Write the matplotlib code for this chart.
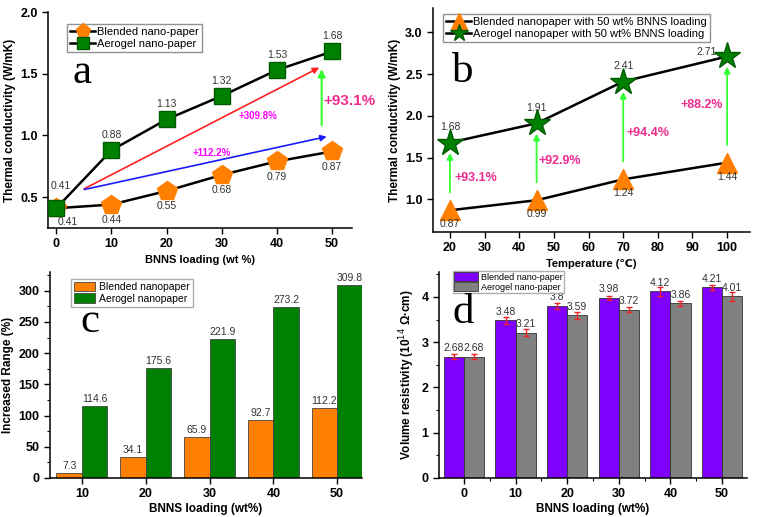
import numpy as np
import matplotlib
matplotlib.use('Agg')
import matplotlib.pyplot as plt
from matplotlib.lines import Line2D
from matplotlib.ticker import MultipleLocator

plt.rcParams['font.family'] = ['Liberation Sans', 'DejaVu Sans']

# Panel a: thermal conductivity vs BNNS loading
loading = [0, 10, 20, 30, 40, 50]
blended_k = [0.41, 0.44, 0.55, 0.68, 0.79, 0.87]
aerogel_k = [0.41, 0.88, 1.13, 1.32, 1.53, 1.68]

# Panel b: thermal conductivity vs temperature (50 wt% BNNS)
temps = [20, 45, 70, 100]
blended_t = [0.87, 0.99, 1.24, 1.44]
aerogel_t = [1.68, 1.91, 2.41, 2.71]
increase_t = ['+93.1%', '+92.9%', '+94.4%', '+88.2%']

# Panel c: increased range
loading_c = [10, 20, 30, 40, 50]
blended_inc = [7.3, 34.1, 65.9, 92.7, 112.2]
aerogel_inc = [114.6, 175.6, 221.9, 273.2, 309.8]

# Panel d: volume resistivity
blended_rho = [2.68, 3.48, 3.8, 3.98, 4.12, 4.21]
aerogel_rho = [2.68, 3.21, 3.59, 3.72, 3.86, 4.01]
blended_err = [0.05, 0.08, 0.07, 0.05, 0.10, 0.06]
aerogel_err = [0.05, 0.07, 0.08, 0.06, 0.05, 0.10]

ORANGE = '#ff8000'
GREEN = '#008000'
PURPLE = '#8000ff'
GRAY = '#808080'
PINK = '#ee2b8f'
LABEL = '#333333'

W, H = 758, 517
fig = plt.figure(figsize=(W / 100, H / 100), dpi=100)


def make_axes(left, top, right, bottom):
    ax = fig.add_axes([left / W, 1 - bottom / H, (right - left) / W, (bottom - top) / H])
    ax.spines['top'].set_visible(False)
    ax.spines['right'].set_visible(False)
    for s in ('left', 'bottom'):
        ax.spines[s].set_linewidth(1.1)
    ax.tick_params(direction='out', length=4, width=1.0, labelsize=9)
    ax.tick_params(which='minor', direction='out', length=2, width=0.8)
    return ax


def bold_ticks(ax):
    for lab in ax.get_xticklabels() + ax.get_yticklabels():
        lab.set_fontweight('bold')


# ---------------- panel a ----------------
ax = make_axes(48, 12, 352, 228)
ax.plot(loading, blended_k, color='black', lw=1.8, marker='p', ms=15,
        mfc=ORANGE, mec=ORANGE, zorder=3)
ax.plot(loading, aerogel_k, color='black', lw=1.8, marker='s', ms=12,
        mfc=GREEN, mec='#005a00', zorder=4)
ax.set_xlim(-1.5, 53.6)
ax.set_ylim(0.25, 2.0)
ax.set_xticks(loading)
ax.set_yticks([0.5, 1.0, 1.5, 2.0])
ax.set_yticklabels(['0.5', '1.0', '1.5', '2.0'])
bold_ticks(ax)
ax.set_xlabel('BNNS loading (wt %)', fontsize=8, fontweight='bold', labelpad=3)
ax.set_ylabel('Thermal conductivity (W/mK)', fontsize=8.5, fontweight='bold', labelpad=3)

for i, (x, y) in enumerate(zip(loading, aerogel_k)):
    off = (3, 16) if i == 0 else (0, 11)
    ax.annotate(f'{y:.2f}', (x, y), xytext=off, textcoords='offset points',
                ha='center', va='center', fontsize=7.5, color=LABEL)
for i, (x, y) in enumerate(zip(loading, blended_k)):
    off = (8, -10) if i == 0 else (0, -11)
    ax.annotate(f'{y:.2f}', (x, y), xytext=off, textcoords='offset points',
                ha='center', va='center', fontsize=7.5, color=LABEL)

ax.annotate('', xy=(48.1, 1.56), xytext=(4.6, 0.557),
            arrowprops=dict(arrowstyle='-|>', color='#ff2020', lw=1.2, mutation_scale=9))
ax.annotate('', xy=(49.5, 0.995), xytext=(4.6, 0.557),
            arrowprops=dict(arrowstyle='-|>', color='#1a1aff', lw=1.2, mutation_scale=9))
ax.annotate('', xy=(48.1, 1.56), xytext=(48.1, 1.06),
            arrowprops=dict(arrowstyle='-|>', color='#33ff33', lw=1.5, mutation_scale=11))
ax.text(36.6, 1.16, '+309.8%', color='#ff00ff', fontsize=7, fontweight='bold',
        ha='center', va='center')
ax.text(28.2, 0.86, '+112.2%', color='#ff00ff', fontsize=7, fontweight='bold',
        ha='center', va='center')
ax.text(53.1, 1.28, '+93.1%', color=PINK, fontsize=11, fontweight='bold',
        ha='center', va='center', clip_on=False)

handles = [Line2D([], [], color='black', lw=1.8, marker='p', ms=11, mfc=ORANGE, mec=ORANGE),
           Line2D([], [], color='black', lw=1.8, marker='s', ms=9, mfc=GREEN, mec='#005a00')]
ax.legend(handles, ['Blended nano-paper', 'Aerogel nano-paper'], loc='upper left',
          bbox_to_anchor=(67 / W, 1 - 24 / H), bbox_transform=fig.transFigure,
          fontsize=8, frameon=True, fancybox=False, edgecolor='#777777',
          handlelength=2.2, handletextpad=0.2, borderpad=0.3, labelspacing=0.15,
          borderaxespad=0)
fig.text(81.7 / W, 1 - 83 / H, 'a', fontsize=31, family='Liberation Serif',
         ha='center', va='baseline')

# ---------------- panel b ----------------
ax = make_axes(433, 8, 750, 232)
ax.plot(temps, blended_t, color='black', lw=1.8, marker='^', ms=15,
        mfc=ORANGE, mec=ORANGE, zorder=3)
ax.plot(temps, aerogel_t, color='black', lw=1.8, marker='*', ms=20,
        mfc=GREEN, mec='#005a00', zorder=4)
ax.set_xlim(15.1, 106.6)
ax.set_ylim(0.61, 3.29)
ax.set_xticks(np.arange(20, 101, 10))
ax.set_yticks([1.0, 1.5, 2.0, 2.5, 3.0])
ax.set_yticklabels(['1.0', '1.5', '2.0', '2.5', '3.0'])
bold_ticks(ax)
ax.set_xlabel('Temperature (\u2103)', fontsize=8, fontweight='bold', labelpad=3)
ax.set_ylabel('Thermal conductivity (W/mK)', fontsize=8.5, fontweight='bold', labelpad=3)

for i, (x, lo, hi) in enumerate(zip(temps, blended_t, aerogel_t)):
    ax.annotate('', xy=(x, hi - 0.09), xytext=(x, lo + 0.18),
                arrowprops=dict(arrowstyle='-|>', color='#33ff33', lw=1.3, mutation_scale=9))
    ax.annotate(f'{lo:.2f}', (x, lo), xytext=(0, -10), textcoords='offset points',
                ha='center', va='center', fontsize=7.5, color=LABEL)
    off = (-15, 3) if i == len(temps) - 1 else (0, 11)
    ax.annotate(f'{hi:.2f}', (x, hi), xytext=off, textcoords='offset points',
                ha='center', va='center', fontsize=7.5, color=LABEL)

inc_pos = [(21.3, 1.26, 'left'), (45.6, 1.46, 'left'), (71.0, 1.80, 'left'), (98.8, 2.13, 'right')]
for (x, y, ha), txt in zip(inc_pos, increase_t):
    ax.text(x, y, txt, color=PINK, fontsize=9, fontweight='bold', ha=ha, va='center')

handles = [Line2D([], [], color='black', lw=1.8, marker='^', ms=11, mfc=ORANGE, mec=ORANGE),
           Line2D([], [], color='black', lw=1.8, marker='*', ms=13, mfc=GREEN, mec='#005a00')]
ax.legend(handles, ['Blended nanopaper with 50 wt% BNNS loading',
                    'Aerogel nanopaper with 50 wt% BNNS loading'], loc='upper left',
          bbox_to_anchor=(443 / W, 1 - 14 / H), bbox_transform=fig.transFigure,
          fontsize=8, frameon=True, fancybox=False, edgecolor='#777777',
          handlelength=2.2, handletextpad=0.2, borderpad=0.3, labelspacing=0.15,
          borderaxespad=0)
fig.text(463 / W, 1 - 82 / H, 'b', fontsize=31, family='Liberation Serif',
         ha='center', va='baseline')

# ---------------- panel c ----------------
ax = make_axes(50, 272, 362, 478)
xc = np.array(loading_c)
b1 = ax.bar(xc - 2, blended_inc, width=4, color=ORANGE, edgecolor='#444444', lw=0.6)
b2 = ax.bar(xc + 2, aerogel_inc, width=4, color=GREEN, edgecolor='#444444', lw=0.6)
ax.set_xlim(5, 53.9)
ax.set_ylim(0, 330)
ax.set_xticks(loading_c)
ax.set_yticks(np.arange(0, 301, 50))
ax.yaxis.set_minor_locator(MultipleLocator(25))
ax.xaxis.set_minor_locator(MultipleLocator(5))
bold_ticks(ax)
ax.tick_params(axis='x', which='minor', length=0)
ax.set_xlabel('BNNS loading (wt%)', fontsize=8.5, fontweight='bold', labelpad=2)
ax.set_ylabel('Increased Range (%)', fontsize=8.5, fontweight='bold', labelpad=3)
for x, v in zip(xc - 2, blended_inc):
    ax.annotate(f'{v}', (x, v), xytext=(0, 1.5), textcoords='offset points',
                ha='center', va='bottom', fontsize=7.5, color=LABEL)
for x, v in zip(xc + 2, aerogel_inc):
    ax.annotate(f'{v}', (x, v), xytext=(0, 1.5), textcoords='offset points',
                ha='center', va='bottom', fontsize=7.5, color=LABEL)
ax.legend([b1, b2], ['Blended nanopaper', 'Aerogel nanopaper'], loc='upper left',
          bbox_to_anchor=(71 / W, 1 - 279 / H), bbox_transform=fig.transFigure,
          fontsize=7.5, frameon=True, fancybox=False, edgecolor='#999999',
          handlelength=2.0, handleheight=1.0, handletextpad=0.4, borderpad=0.3,
          labelspacing=0.1, borderaxespad=0)
fig.text(90 / W, 1 - 331.7 / H, 'c', fontsize=31, family='Liberation Serif',
         ha='center', va='baseline')

# ---------------- panel d ----------------
ax = make_axes(439, 272, 747, 478)
xd = np.array(loading)
b1 = ax.bar(xd - 1.95, blended_rho, width=3.9, color=PURPLE, edgecolor='#333333', lw=0.6,
            yerr=blended_err, error_kw=dict(ecolor='#ee2222', elinewidth=1.0, capsize=2, capthick=1.0))
b2 = ax.bar(xd + 1.95, aerogel_rho, width=3.9, color=GRAY, edgecolor='#333333', lw=0.6,
            yerr=aerogel_err, error_kw=dict(ecolor='#ee2222', elinewidth=1.0, capsize=2, capthick=1.0))
ax.set_xlim(-4.85, 54.85)
ax.set_ylim(0, 4.55)
ax.set_xticks(loading)
ax.set_yticks([0, 1, 2, 3, 4])
ax.yaxis.set_minor_locator(MultipleLocator(0.5))
ax.xaxis.set_minor_locator(MultipleLocator(5))
bold_ticks(ax)
ax.set_xlabel('BNNS loading (wt%)', fontsize=8.5, fontweight='bold', labelpad=2)
ax.set_ylabel('Volume resistivity (10$^{14}$ \u03a9\u00b7cm)', fontsize=8.5,
              fontweight='bold', labelpad=3)
for x, v in zip(xd - 1.95, blended_rho):
    ax.annotate(f'{v:g}', (x, v), xytext=(0, 2.5), textcoords='offset points',
                ha='center', va='bottom', fontsize=7.5, color=LABEL)
for x, v in zip(xd + 1.95, aerogel_rho):
    ax.annotate(f'{v:g}', (x, v), xytext=(0, 2.5), textcoords='offset points',
                ha='center', va='bottom', fontsize=7.5, color=LABEL)
ax.legend([b1, b2], ['Blended nano-paper', 'Aerogel nano-paper'], loc='upper left',
          bbox_to_anchor=(453 / W, 1 - 271 / H), bbox_transform=fig.transFigure,
          fontsize=6.5, frameon=True, fancybox=False, edgecolor='#999999',
          handlelength=2.6, handleheight=1.1, handletextpad=0.3, borderpad=0.15,
          labelspacing=0.05, borderaxespad=0)
fig.text(463 / W, 1 - 323 / H, 'd', fontsize=31, family='Liberation Serif',
         ha='center', va='baseline')

fig.savefig('out.png', dpi=100)
